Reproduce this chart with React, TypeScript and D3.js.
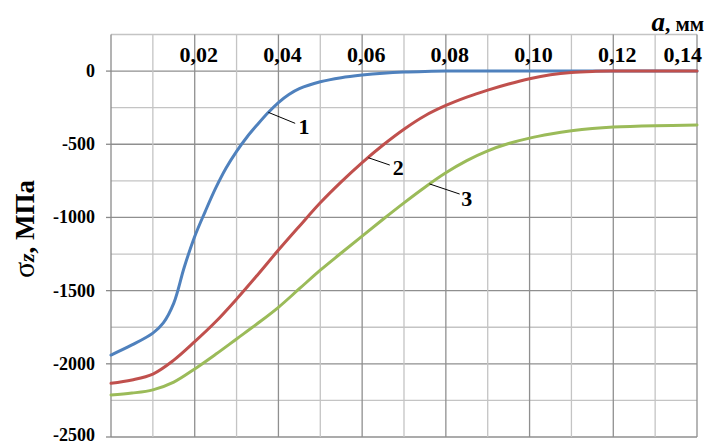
import React from "react";
import * as d3 from "d3";

// ---- data (x in mm, σz in MPa) ----
const x1 = [0, 0.005, 0.01, 0.0125, 0.015, 0.0175, 0.02, 0.0225, 0.025, 0.0275, 0.03, 0.0325, 0.035, 0.0375, 0.04, 0.0425, 0.045, 0.05, 0.055, 0.06, 0.065, 0.07, 0.075, 0.08, 0.09, 0.1, 0.11, 0.12, 0.13, 0.14];
const y1 = [-1940, -1871, -1790, -1720, -1585, -1340, -1130, -960, -800, -662, -548, -450, -365, -285, -215, -160, -120, -73, -45, -27, -14, -6, -2, 0, 0, 0, 0, 0, 0, 0];

const x2 = [0, 0.005, 0.01, 0.015, 0.02, 0.025, 0.03, 0.035, 0.04, 0.045, 0.05, 0.055, 0.06, 0.065, 0.07, 0.075, 0.08, 0.085, 0.09, 0.095, 0.1, 0.105, 0.11, 0.115, 0.12, 0.13, 0.14];
const y2 = [-2133, -2110, -2070, -1975, -1849, -1713, -1558, -1393, -1223, -1060, -900, -757, -625, -505, -397, -305, -235, -178, -130, -88, -52, -25, -9, -2, 0, 0, 0];

const x3 = [0, 0.005, 0.01, 0.015, 0.02, 0.025, 0.03, 0.035, 0.04, 0.045, 0.05, 0.055, 0.06, 0.065, 0.07, 0.075, 0.08, 0.085, 0.09, 0.095, 0.1, 0.105, 0.11, 0.115, 0.12, 0.13, 0.14];
const y3 = [-2213, -2200, -2178, -2125, -2035, -1935, -1830, -1725, -1614, -1487, -1360, -1243, -1127, -1012, -900, -793, -695, -612, -545, -495, -458, -430, -408, -392, -382, -373, -369];

const seriesColors = ["#4F81BD", "#C0504D", "#9BBB59"];

const xTicks = [0.02, 0.04, 0.06, 0.08, 0.1, 0.12, 0.14];
const yTicks = [0, -500, -1000, -1500, -2000, -2500];

// curve labels: anchor on curve, leader end, text position (data units)
const labelNames = ["1", "2", "3"];
const labelAnchorX = [0.0376, 0.0615, 0.0761];
const labelAnchorY = [-282, -592, -771];
const labelEndX = [0.044, 0.0666, 0.0833];
const labelEndY = [-357, -642, -840];
const labelTextX = [0.0461, 0.0686, 0.085];
const labelTextY = [-430, -710, -922];

const fmt = (v: number) => v.toFixed(2).replace(".", ",");

export default function App() {
  const W = 707, H = 443;
  const left = 111, right = 697, top = 34.5, bottom = 437;
  const x = d3.scaleLinear().domain([0, 0.14]).range([left, right]);
  const y = d3.scaleLinear().domain([-2500, 250]).range([bottom, top]);

  const series = [
    { xs: x1, ys: y1 },
    { xs: x2, ys: y2 },
    { xs: x3, ys: y3 },
  ];
  const line = d3
    .line<[number, number]>()
    .x((d) => x(d[0]))
    .y((d) => y(d[1]))
    .curve(d3.curveCatmullRom.alpha(0.5));

  const xGrid = d3.range(1, 15).map((i) => i / 100);
  const yGrid = d3.range(-2500, 251, 250);
  const font = "'Liberation Serif', 'Times New Roman', serif";

  return (
    <svg width={W} height={H} style={{ position: "absolute", left: 0, top: 0, background: "#fff" }}>
      {/* horizontal grid */}
      {yGrid.map((v) => (
        <line
          key={"hy" + v}
          x1={left}
          x2={right}
          y1={y(v)}
          y2={y(v)}
          stroke={v % 500 === 0 ? "#8f8f8f" : "#c4c4c4"}
          strokeWidth={1.3}
        />
      ))}
      {/* vertical grid */}
      {xGrid.map((v, i) => (
        <line
          key={"vx" + i}
          x1={x(v)}
          x2={x(v)}
          y1={top}
          y2={bottom}
          stroke={(i + 1) % 2 === 0 ? "#8f8f8f" : "#c4c4c4"}
          strokeWidth={1.3}
        />
      ))}
      {/* y axis */}
      <line x1={left} x2={left} y1={top} y2={bottom} stroke="#8a8a8a" strokeWidth={1.3} />
      {yTicks.map((v) => (
        <g key={"yt" + v}>
          <line x1={left - 5} x2={left} y1={y(v)} y2={y(v)} stroke="#8a8a8a" strokeWidth={1.3} />
          <text
            x={95}
            y={Math.min(y(v) + 6, 441)}
            textAnchor="end"
            fontFamily={font}
            fontWeight="bold"
            fontSize={18}
            fill="#000"
          >
            {v}
          </text>
        </g>
      ))}
      {/* x tick labels */}
      {xTicks.map((v) => {
        const last = v === 0.14;
        return (
          <text
            key={"xt" + v}
            x={last ? 702 : x(v) + 4}
            y={61.5}
            textAnchor={last ? "end" : "middle"}
            fontFamily={font}
            fontWeight="bold"
            fontSize={22}
            fill="#000"
          >
            {fmt(v)}
          </text>
        );
      })}
      {/* series */}
      {series.map((s, i) => (
        <path
          key={"s" + i}
          d={line(s.xs.map((xv, j) => [xv, s.ys[j]] as [number, number])) || ""}
          fill="none"
          stroke={seriesColors[i]}
          strokeWidth={3}
          strokeLinejoin="round"
          strokeLinecap="round"
        />
      ))}
      {/* curve labels */}
      {labelNames.map((n, i) => (
        <g key={"lb" + i}>
          <line
            x1={x(labelAnchorX[i])}
            y1={y(labelAnchorY[i])}
            x2={x(labelEndX[i])}
            y2={y(labelEndY[i])}
            stroke="#000"
            strokeWidth={1}
          />
          <text
            x={x(labelTextX[i])}
            y={y(labelTextY[i])}
            textAnchor="middle"
            fontFamily={font}
            fontWeight="bold"
            fontSize={22}
            fill="#000"
          >
            {n}
          </text>
        </g>
      ))}
      {/* x axis title */}
      <text x={704} y={31} textAnchor="end" fontFamily={font} fontWeight="bold" fill="#000">
        <tspan fontStyle="italic" fontSize={27}>a</tspan>
        <tspan fontSize={21}>, мм</tspan>
      </text>
      {/* y axis title */}
      <text
        transform={`translate(34, 229) rotate(-90)`}
        textAnchor="middle"
        fontFamily={font}
        fontWeight="bold"
        fill="#000"
      >
        <tspan fontSize={30} fontWeight="normal">σ</tspan>
        <tspan fontSize={22} fontStyle="italic">z</tspan>
        <tspan fontSize={27}>, МПа</tspan>
      </text>
    </svg>
  );
}
